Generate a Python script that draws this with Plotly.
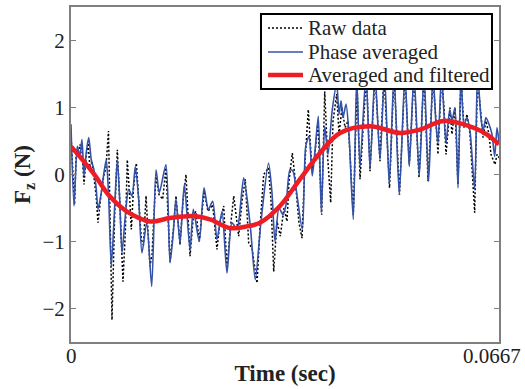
import plotly.graph_objects as go

# ---- data (time in ms, force in N) ----
raw_t = [0.0, 0.31, 0.55, 0.83, 1.09, 1.40, 1.71, 2.03, 2.34, 2.65, 2.96, 3.27, 3.58, 3.90, 4.21,
         4.68, 5.14, 5.45, 5.84, 6.08, 6.39, 6.81, 7.22, 7.64, 8.10, 8.49, 8.77, 9.12, 9.40, 9.74,
         10.18, 10.60, 10.96, 11.30, 11.69, 12.31, 12.62, 13.25, 13.71, 14.29, 14.80, 15.43, 15.97,
         16.36, 16.99, 17.45, 17.92, 18.55, 19.09, 19.48, 19.99, 20.73, 21.35, 22.08, 22.75, 23.22,
         23.80, 24.31, 24.78, 25.36, 26.13, 26.65, 27.16, 27.69, 28.21, 28.99, 29.45, 30.03, 30.78,
         31.17, 31.59, 32.10, 32.62, 33.19, 33.66, 33.97, 34.49, 34.91, 35.53, 36.00, 36.47, 36.98,
         37.56, 38.02, 38.49, 39.07, 39.54, 39.97, 40.47, 40.83, 41.41, 41.77, 42.23, 42.70, 43.17,
         43.48, 43.99, 44.26, 44.57, 45.04, 45.66, 46.05, 46.60, 47.38, 48.15, 48.78, 49.64, 50.34,
         51.19, 52.05, 52.72, 53.45, 54.23, 55.01, 55.64, 56.41, 56.88, 57.19, 57.74, 58.13, 58.44,
         59.06, 59.37, 59.84, 60.31, 60.78, 61.24, 61.71, 62.18, 62.91, 63.35, 63.89, 64.21, 64.67,
         65.14, 65.45, 65.76, 66.08, 66.39, 66.70]
raw_f = [0.6, 0.1, -0.45, 0.37, 0.3, 0.45, 0.35, -0.15, 0.25, 0.47, 0.1, 0.2, -0.05, -0.3, -0.72,
         -0.3, 0.0, 0.1, 0.65, -0.6, -2.17, -0.6, 0.37, -0.5, -1.6, -0.8, 0.22, -0.3, -0.82, -0.2,
         0.17, -0.45, -0.97, -1.05, -0.32, -1.37, -1.2, 0.0, -0.3, -0.37, 0.1, -1.3, -0.8,
         -0.32, -1.05, -0.4, 0.0, -1.22, -0.6, -0.55, -1.0, -0.25, -0.55, -0.45, -1.12, -0.7,
         -0.47, -1.4, -0.85, -0.32, -0.92, -0.4, -0.07, -1.02, -1.1, -1.62, -0.8, 0.0, 0.1,
         -0.4, -1.45, -0.7, -0.92, -0.5, -0.7, -0.1, 0.32, -0.05, -0.72, -0.95, 0.2, 0.97,
         0.05, 0.3, 0.8, -0.6, 1.24, 0.3, -0.42, 0.8, 1.2, 0.6, 1.0, 0.7, 0.8,
         0.3, -0.6, 0.3, 1.4, -0.07, 0.8, 1.5, 0.05, 1.5, 0.2, 1.5, -0.2, 1.5,
         -0.3, 1.5, 0.15, 1.5, -0.05, 1.5, -0.1, 1.45, 0.8, 0.3, 1.45, 1.0, 0.3,
         1.0, 0.6, 1.0, -0.15, 1.45, 0.7, 0.9, 0.6, -0.57, 1.45, 0.8, 0.55, 0.8,
         0.6, 0.3, 0.22, 0.15, 0.3, 0.25]

avg_t = [0.0, 0.47, 0.98, 1.36, 1.71, 2.03, 2.38, 2.76, 3.16, 3.58, 3.94, 4.21, 4.72, 5.14, 5.50,
         5.88, 6.28, 6.81, 7.22, 7.59, 7.95, 8.46, 8.99, 9.51, 10.02, 10.55, 11.06, 11.80, 12.58,
         13.25, 13.76, 14.80, 15.43, 15.94, 16.36, 16.99, 17.66, 18.55, 19.06, 19.99, 20.73, 21.40,
         22.08, 22.75, 23.53, 24.31, 25.09, 25.87, 26.91, 27.94, 28.72, 29.61, 30.78, 31.32, 31.79,
         32.41, 33.04, 33.51, 34.13, 34.60, 35.06, 36.05, 36.58, 37.09, 37.60, 38.02, 38.54, 39.01,
         39.54, 40.05, 40.72, 41.41, 41.77, 42.08, 42.39, 42.86, 43.32, 43.99, 44.52, 45.04, 45.97,
         46.60, 47.38, 48.15, 48.86, 49.60, 50.34, 51.16, 52.05, 52.72, 53.45, 54.28, 55.01, 55.74,
         56.41, 56.88, 57.19, 57.74, 58.13, 58.44, 59.02, 59.37, 59.84, 60.31, 60.78, 61.24, 61.71,
         62.18, 62.91, 63.35, 63.89, 64.21, 64.67, 65.14, 65.61, 66.03, 66.39, 66.70]
avg_f = [0.75, -0.47, 0.42, 0.27, 0.52, -0.02, 0.33, 0.55, 0.22, 0.07, -0.22, -0.52, -0.27, 0.03, 0.22,
         -0.37, -1.37, -0.47, 0.22, -0.37, -1.17, -0.62, -0.22, -0.32, 0.12, -0.37, -1.17, -0.72, -1.67,
         0.07, -0.27, 0.15, -1.32, -0.87, -0.37, -1.02, -0.15, -1.12, -0.52, -1.0, -0.2, -0.52,
         -0.4, -0.97, -0.55, -1.47, -0.72, -0.82, -0.05, -0.77, -1.57, -0.7, 0.17, -0.27, -1.0,
         -0.5, -0.6, -0.45, 0.07, 0.05, -0.2, -0.82, 0.42, 0.57, -0.02, 0.35, 0.87, -0.57,
         0.72, 0.3, 0.97, 1.35, 0.9, 1.1, 0.85, 1.05, 0.6, -0.67, 1.45, 0.12, 1.5,
         0.1, 1.5, 0.22, 1.5, -0.15, 1.5, -0.3, 1.5, 0.12, 1.5, -0.02, 1.5, -0.1,
         1.5, 0.75, 0.47, 1.5, 0.9, 0.47, 0.97, 0.8, 1.0, -0.2, 1.5, 0.75, 0.85,
         0.65, -0.22, 1.5, 0.85, 0.65, 0.85, 0.75, 0.6, 0.27, 0.7, 0.48]

filt_t = [0.0, 3.48, 6.08, 8.68, 12.31, 15.43, 19.06, 21.66, 24.78, 27.58, 29.45, 32.57, 35.69,
          38.80, 41.92, 46.60, 51.27, 54.39, 58.02, 62.69, 64.78, 66.70]
filt_f = [0.42, 0.02, -0.33, -0.55, -0.70, -0.65, -0.62, -0.67, -0.80, -0.77, -0.72, -0.47, -0.07,
          0.32, 0.62, 0.72, 0.62, 0.67, 0.80, 0.70, 0.60, 0.45]

series_names = ["Raw data", "Phase averaged", "Averaged and filtered"]
x_ticks = [0, 0.0667]
x_tick_text = ["0", "0.0667"]
y_ticks = [-2, -1, 0, 1, 2]

FONT = "Liberation Serif, Times New Roman, serif"
AX = "#7f7f7f"
TXT = "#222222"
styles = [dict(color="black", width=1.5, dash="2px,2px"),
          dict(color="#3352a8", width=1.6),
          dict(color="#ee1d24", width=4.5)]

fig = go.Figure()
fig.add_trace(go.Scatter(x=[t / 1000 for t in raw_t], y=raw_f, mode="lines", name=series_names[0],
                         line=styles[0]))
fig.add_trace(go.Scatter(x=[t / 1000 for t in avg_t], y=avg_f, mode="lines", name=series_names[1],
                         line=dict(**styles[1], shape="spline", smoothing=0.7)))
fig.add_trace(go.Scatter(x=[t / 1000 for t in filt_t], y=filt_f, mode="lines", name=series_names[2],
                         line=dict(**styles[2], shape="spline", smoothing=1.0)))

axis_common = dict(showgrid=False, zeroline=False, showline=True, linecolor=AX, linewidth=2,
                   mirror="ticks", tickcolor=AX, tickwidth=1, automargin=False,
                   tickfont=dict(family=FONT, size=21, color=TXT))

fig.update_xaxes(range=[0, 0.0667], showticklabels=False, ticks="",
                 title=dict(text="<b>Time (sec)</b>", font=dict(family=FONT, size=23, color=TXT), standoff=22),
                 **axis_common)
fig.update_yaxes(range=[-2.5, 2.5], tickvals=y_ticks, ticks="inside", ticklen=5,
                 title=dict(text="<b>F<sub>z</sub> (N)</b>", font=dict(family=FONT, size=23, color=TXT), standoff=5),
                 **axis_common)

annotations = []
# x tick labels (edge ticks, MATLAB style)
for xv, txt, sh in zip(x_ticks, x_tick_text, [0, -7]):
    annotations.append(dict(xref="x", yref="paper", x=xv, y=-0.0418, xanchor="center", yanchor="middle",
                            xshift=sh, text=txt, showarrow=False, font=dict(family=FONT, size=21, color=TXT)))

# legend box drawn in paper coordinates (layout only)
shapes = [dict(type="rect", xref="paper", yref="paper", x0=0.4439, x1=0.9836, y0=0.7552, y1=0.9791,
               fillcolor="white", line=dict(color="black", width=2), layer="above")]
row_y = [0.9373, 0.8657, 0.7970]
for name, st, yy in zip(series_names, styles, row_y):
    ln = dict(color=st["color"], width=st["width"])
    if "dash" in st:
        ln["dash"] = st["dash"]
    shapes.append(dict(type="line", xref="paper", yref="paper", x0=0.4603, x1=0.5421, y0=yy, y1=yy,
                       line=ln, layer="above"))
    annotations.append(dict(xref="paper", yref="paper", x=0.5491, y=yy, xanchor="left", yanchor="middle",
                            text=name, showarrow=False, font=dict(family=FONT, size=21, color=TXT)))

fig.update_layout(
    width=525, height=389,
    margin=dict(l=71, r=26, t=7, b=47, autoexpand=False),
    paper_bgcolor="white", plot_bgcolor="white",
    font=dict(family=FONT, color=TXT),
    showlegend=False,
    shapes=shapes,
    annotations=annotations,
)

fig.write_html("out.html")
